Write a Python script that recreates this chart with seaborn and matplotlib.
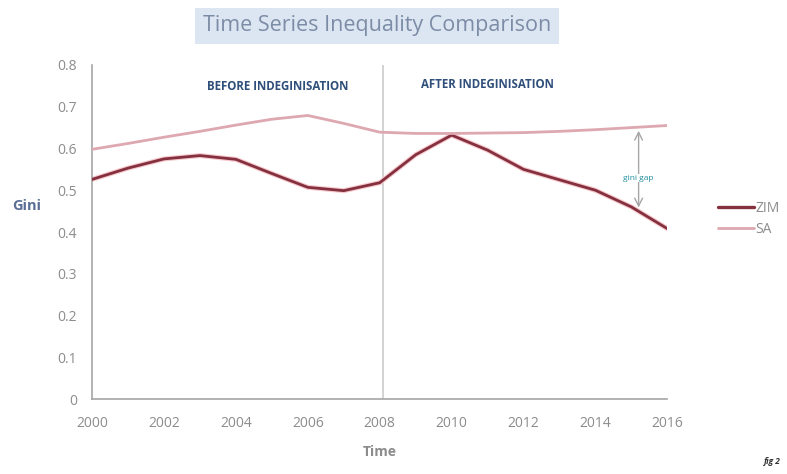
import numpy as np
import pandas as pd
import matplotlib
matplotlib.use("Agg")
import matplotlib.pyplot as plt
import seaborn as sns
from matplotlib.lines import Line2D

years = list(range(2000, 2017))
zim = [0.526, 0.553, 0.575, 0.583, 0.574, 0.540, 0.507, 0.499, 0.518, 0.585,
       0.632, 0.596, 0.550, 0.525, 0.500, 0.460, 0.408]
sa = [0.598, 0.612, 0.627, 0.641, 0.656, 0.670, 0.679, 0.660, 0.639, 0.636,
      0.636, 0.637, 0.638, 0.641, 0.645, 0.650, 0.655]
series_names = ["ZIM", "SA"]
y_ticks = [0, 0.1, 0.2, 0.3, 0.4, 0.5, 0.6, 0.7, 0.8]
x_ticks = list(range(2000, 2017, 2))

df = pd.DataFrame({"Year": years * 2,
                   "Gini": zim + sa,
                   "Country": ["ZIM"] * len(years) + ["SA"] * len(years)})

sns.set_theme(style="white")
plt.rcParams['font.family'] = ['Open Sans', 'DejaVu Sans']

fig = plt.figure(figsize=(7.87, 4.74), dpi=100)
ax = fig.add_axes([0.117, 0.158, 0.731, 0.705])

palette = {"ZIM": "#85303F", "SA": "#DDA8B0"}
# soft glow under ZIM
ax.plot(years, zim, color="#F6C9CD", lw=3.6, solid_capstyle="round",
        solid_joinstyle="round", zorder=2)
sns.lineplot(data=df, x="Year", y="Gini", hue="Country", hue_order=series_names,
             palette=palette, ax=ax, linewidth=2.0, legend=False, zorder=3)
for l in ax.lines:
    l.set_solid_joinstyle("round")
    l.set_solid_capstyle("round")
ax.lines[-1].set_linewidth(2.0)

ax.set_xlim(2000, 2016)
ax.set_ylim(0, 0.8)
ax.set_xticks(x_ticks)
ax.set_yticks(y_ticks)
ax.set_yticklabels([("%g" % v) for v in y_ticks])
ax.tick_params(axis="x", colors="#8C8C8C", labelsize=10, length=0, pad=12)
ax.tick_params(axis="y", colors="#8C8C8C", labelsize=10, length=0, pad=11)
for s in ["top", "right"]:
    ax.spines[s].set_visible(False)
for s in ["left", "bottom"]:
    ax.spines[s].set_color("#A6A6A6")
    ax.spines[s].set_linewidth(1.2)

ax.set_xlabel("")
ax.set_ylabel("")
fig.text(380 / 787, 1 - 452 / 474, "Time", fontsize=10, fontweight="bold",
         color="#8C8C8C", ha="center", va="center")
fig.text(12 / 787, 1 - 206 / 474, "Gini", fontsize=10.5, fontweight="bold",
         color="#5B6F96", ha="left", va="center")

# divider
ax.axvline(2008.1, ymin=0, ymax=1.0, color="#C8C8C8", lw=1.1, zorder=1)
ax.text(2005.15, 0.748, "BEFORE INDEGINISATION", fontsize=8.3, fontweight="bold",
        color="#2F4F7A", ha="center", va="center")
ax.text(2011.0, 0.752, "AFTER INDEGINISATION", fontsize=8.3, fontweight="bold",
        color="#2F4F7A", ha="center", va="center")

# gini gap arrow
ax.annotate("", xy=(2015.2, 0.452), xytext=(2015.2, 0.649),
            arrowprops=dict(arrowstyle="<->", color="#A6A6A6", lw=1.0,
                            mutation_scale=14))
ax.text(2015.2, 0.529, "gini gap", fontsize=6, color="#1F8FA0", ha="center",
        va="center", bbox=dict(facecolor="white", edgecolor="none", pad=0.5))

# legend
handles = [Line2D([0], [0], color=palette["ZIM"], lw=2.4),
           Line2D([0], [0], color=palette["SA"], lw=2.0)]
leg = fig.legend(handles, series_names, loc="center left",
                 bbox_to_anchor=(705 / 787, 1 - 219 / 474), frameon=False,
                 fontsize=10, handlelength=2.6, handletextpad=0.1, labelspacing=0.45)
for t in leg.get_texts():
    t.set_color("#8C8C8C")

# title
fig.text(377 / 787, 1 - 26 / 474, "Time Series Inequality Comparison",
         fontsize=15.5, color="#7D8CA6", ha="center", va="center",
         bbox=dict(facecolor="#DCE6F2", edgecolor="none", pad=5.5))

fig.text(772 / 787, 1 - 462 / 474, "fig 2", fontsize=6, fontstyle="italic",
         fontweight="bold", color="#333333", ha="center", va="center")

fig.savefig("out.png", dpi=100)
